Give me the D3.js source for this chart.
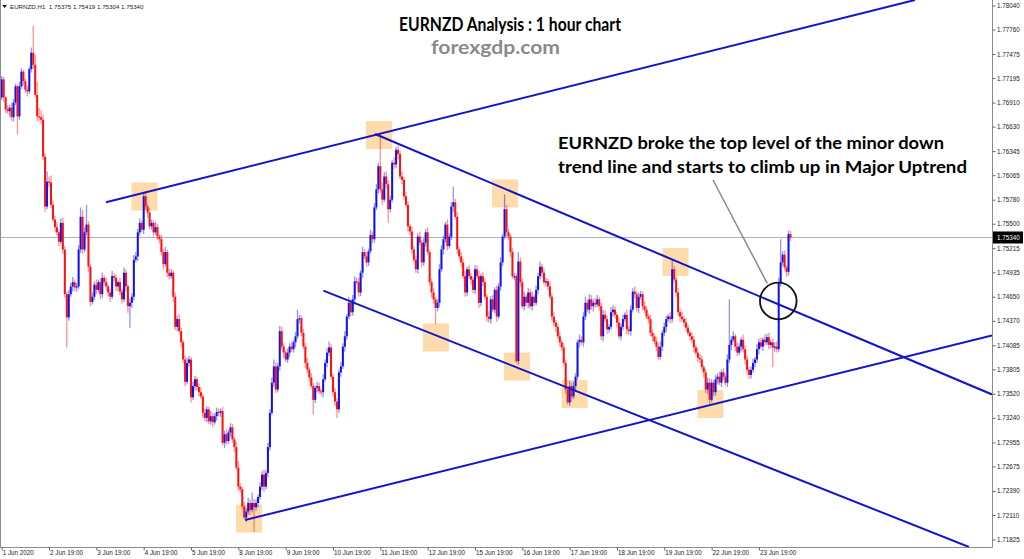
<!DOCTYPE html>
<html><head><meta charset="utf-8">
<script src="https://cdn.jsdelivr.net/npm/d3@7"></script>
<style>html,body{margin:0;padding:0;background:#fff;overflow:hidden}</style>
</head><body>
<svg id="c" width="1024" height="559"></svg>
<script>
// ---- DATA (hourly EURNZD, prices in pips = price x 10000) ----
const firstOpenPips = 17697;
const closePips = [
17718,17697,17683,17681,17685,17674,17691,17710,17675,17710,
17727,17716,17706,17704,17730,17749,17735,17700,17675,17674,
17671,17628,17570,17599,17598,17572,17555,17546,17540,17529,
17551,17520,17468,17441,17468,17477,17482,17476,17477,17520,
17558,17520,17540,17549,17500,17459,17465,17479,17473,17482,
17468,17487,17482,17477,17470,17465,17489,17487,17477,17482,
17471,17462,17493,17477,17454,17458,17465,17508,17512,17540,
17551,17543,17582,17570,17563,17547,17551,17540,17546,17535,
17532,17517,17503,17517,17493,17489,17493,17465,17430,17439,
17425,17412,17392,17366,17388,17392,17348,17361,17369,17360,
17354,17349,17330,17324,17334,17320,17326,17319,17326,17331,
17330,17332,17295,17305,17297,17307,17313,17299,17290,17266,
17244,17241,17221,17208,17215,17225,17217,17225,17220,17225,
17232,17244,17258,17244,17260,17290,17330,17365,17384,17357,
17384,17425,17407,17400,17392,17400,17407,17404,17412,17419,
17439,17440,17423,17407,17388,17380,17371,17361,17345,17359,
17361,17355,17354,17369,17388,17400,17406,17372,17354,17343,
17334,17377,17384,17407,17419,17442,17458,17447,17462,17483,
17482,17470,17493,17517,17512,17505,17518,17537,17532,17569,
17590,17617,17590,17578,17605,17596,17567,17578,17621,17619,
17636,17631,17605,17601,17582,17572,17547,17541,17520,17508,
17497,17535,17528,17505,17528,17540,17517,17482,17470,17462,
17452,17458,17497,17520,17532,17549,17524,17535,17570,17575,
17558,17520,17512,17505,17489,17470,17497,17489,17485,17473,
17497,17489,17458,17489,17482,17465,17442,17439,17462,17450,
17473,17442,17477,17505,17535,17567,17540,17535,17517,17489,
17489,17390,17506,17482,17454,17465,17458,17470,17454,17465,
17458,17473,17489,17500,17493,17482,17483,17477,17465,17442,
17435,17430,17419,17412,17406,17388,17357,17342,17361,17349,
17361,17372,17412,17415,17412,17442,17458,17450,17462,17454,
17458,17456,17462,17454,17419,17444,17439,17427,17430,17447,
17450,17444,17435,17419,17430,17439,17444,17427,17425,17450,
17471,17468,17452,17465,17468,17454,17450,17442,17439,17423,
17419,17413,17407,17395,17407,17423,17430,17439,17442,17439,
17497,17485,17470,17447,17442,17439,17435,17429,17423,17419,
17415,17406,17400,17394,17392,17383,17377,17357,17365,17345,
17365,17354,17369,17372,17365,17377,17372,17365,17392,17409,
17415,17419,17407,17400,17407,17415,17404,17392,17380,17374,
17380,17388,17392,17404,17412,17407,17415,17412,17418,17409,
17412,17406,17407,17404,17482,17505,17514,17499,17494,17538,
17534];
// upper / lower wick length in pips beyond the candle body
const wickUp = [
4,3,2,5,3,6,4,3,2,5, 4,2,3,5,3,6,31,12,15,10, 8,6,4,12,6,8,5,4,6,3, 5,6,4,3,5,4,6,3,4,5,
11,8,6,23,4,3,5,4,6,3, 4,6,3,5,2,4,6,3,4,2, 5,3,6,4,3,5,4,6,5,4, 5,3,4,6,3,5,4,3,6,4,
3,5,4,6,3,5,4,3,5,4, 6,4,3,5,6,4,3,5,4,3, 4,6,3,5,4,3,6,4,3,5, 4,3,5,4,6,3,5,4,3,6,
8,4,3,5,4,6,4,12,5,4, 3,5,4,6,3,5,4,6,8,5, 4,6,5,4,3,5,4,6,3,5, 11,4,3,5,4,6,3,5,4,3,
5,4,3,6,4,5,7,4,3,5, 4,3,5,4,6,3,7,4,5,6, 4,5,3,6,4,5,3,6,4,5, 6,4,37,8,5,6,4,5,3,6,
3,5,4,6,3,5,4,3,6,4, 5,4,6,3,5,4,6,3,4,5, 3,4,6,5,4,3,6,4,5,18, 4,6,3,5,4,6,3,5,4,3,
5,4,6,3,5,4,3,6,4,5, 3,5,4,6,3,17,5,4,3,5, 4,3,11,5,4,6,3,5,4,6, 3,5,4,6,3,5,4,3,6,4,
5,3,4,6,3,5,4,3,6,4, 5,4,3,6,4,5,7,4,6,5, 4,6,5,3,4,6,5,4,3,6, 5,4,3,6,4,5,3,6,4,5,
4,6,3,5,4,3,6,4,3,5, 4,3,5,4,6,3,5,4,3,5, 11,4,3,5,4,6,3,5,4,3, 5,4,3,6,4,5,3,4,6,5,
4,3,5,4,6,3,5,4,6,53, 4,6,3,5,4,3,6,4,5,3, 4,5,3,6,4,5,3,6,4,5, 3,4,5,6,5,27,4,5,3,4,
4];
const wickDn = [
3,5,4,3,6,4,5,3,21,4, 3,5,4,6,3,4,5,3,6,4, 5,4,6,3,5,4,3,6,4,5, 3,5,4,35,4,3,6,4,5,3,
4,5,3,4,6,5,3,4,5,3, 6,4,3,5,4,6,3,4,5,6, 4,5,3,6,8,25,6,4,3,5, 4,3,5,4,6,3,4,5,3,4,
5,4,6,3,5,4,3,6,4,5, 3,6,4,5,3,4,6,3,5,4, 5,3,6,4,5,3,4,6,3,5, 4,5,3,6,4,3,5,4,6,3,
5,4,3,2,5,4,6,3,29,4, 5,3,4,6,3,5,4,3,5,4, 3,5,4,6,3,4,5,3,4,6, 3,5,4,3,6,4,5,3,17,4,
5,3,4,6,3,5,4,3,6,5, 10,4,5,3,6,4,3,5,4,6, 3,5,4,6,3,5,4,3,5,4, 3,5,4,6,3,5,16,4,3,5,
4,6,3,5,4,3,6,4,5,3, 4,5,3,6,4,5,3,4,6,5, 19,4,5,3,6,4,5,3,4,6, 3,5,4,6,3,5,4,3,6,4,
5,3,6,4,5,3,6,4,5,3, 4,6,3,5,4,3,5,4,6,3, 5,2,4,6,3,5,4,6,3,5, 4,3,5,4,6,3,5,4,3,5,
4,6,3,5,4,3,5,2,4,6, 3,5,4,6,3,5,4,3,5,4, 6,4,3,5,4,6,3,5,4,3, 5,4,6,3,5,4,3,6,4,5,
3,5,4,6,3,5,4,3,5,4, 6,3,5,4,3,5,4,6,3,5, 4,3,5,4,6,3,5,4,3,5, 4,6,3,5,4,3,6,4,5,5,
3,5,4,6,3,5,4,3,5,4, 6,3,5,4,3,5,4,6,3,5, 4,3,5,4,6,3,5,4,3,5, 4,23,5,4,3,5,4,3,6,4,
4];
const yTickLabels = ["1.78040","1.77760","1.77475","1.77195","1.76910","1.76630","1.76345","1.76065",
  "1.75780","1.75500","1.75215","1.74935","1.74650","1.74370","1.74085","1.73805","1.73520",
  "1.73240","1.72955","1.72675","1.72390","1.72110","1.71825"];
const xTickLabels = ["1 Jun 2020","2 Jun 19:00","3 Jun 19:00","4 Jun 19:00","5 Jun 19:00","8 Jun 19:00",
  "9 Jun 19:00","10 Jun 19:00","11 Jun 19:00","12 Jun 19:00","15 Jun 19:00","16 Jun 19:00",
  "17 Jun 19:00","18 Jun 19:00","19 Jun 19:00","22 Jun 19:00","23 Jun 19:00"];
const barsPerLabel = 24;
const currentPrice = "1.75340";
const headerText = "EURNZD,H1  1.75375 1.75419 1.75304 1.75340";
// trend lines: [barIndex, price] endpoints
const trendLines = [
  [[52.9, 1.75750], [463.1, 1.78104]],   // major uptrend top
  [[123.4, 1.72052], [502.2, 1.74199]],  // major uptrend bottom
  [[189.3, 1.76544], [502.2, 1.73513]],  // minor down top
  [[163.1, 1.74721], [490.5, 1.71738]]   // minor down bottom
];
// highlighted touch points [barIndex, price]
const zones = [[72.4,1.75817],[191.3,1.76533],[255.2,1.75852],[341.7,1.75055],[220.2,1.74176],
  [261.3,1.73838],[290.5,1.73518],[359.4,1.73402],[125.4,1.72069]];
const breakout = [393.8, 1.74601];
const pointer = [[360.7, 1.76009], [388.2, 1.74807]];
const title = "EURNZD Analysis : 1 hour chart";
const site = "forexgdp.com";
const note = ["EURNZD broke the top level of the minor down", "trend line and starts to climb up in Major Uptrend"];

// ---- DRAW ----
const svg = d3.select("#c");
const plotR = 992, plotB = 547;
const x = d3.scaleLinear().domain([0, 400]).range([1.7, 790.5]);
const y = d3.scaleLinear().domain([1.71825, 1.78040]).range([539.5, 5.5]);

svg.append("defs").append("clipPath").attr("id","clip")
  .append("rect").attr("x",1).attr("y",0).attr("width",plotR-1).attr("height",plotB);

const bars = closePips.map((c,i)=>{
  const o = i===0 ? firstOpenPips : closePips[i-1];
  return {i, o:o/1e4, c:c/1e4, h:(Math.max(o,c)+wickUp[i])/1e4, l:(Math.min(o,c)-wickDn[i])/1e4};
});

const plot = svg.append("g").attr("clip-path","url(#clip)");
// zones
plot.append("g").selectAll("rect").data(zones).join("rect")
  .attr("x", d=>x(d[0])-13).attr("y", d=>y(d[1])-14).attr("width",26).attr("height",28)
  .attr("fill","#fedbab");
// current price line
plot.append("line").attr("x1",0).attr("x2",plotR).attr("y1",y(+currentPrice)).attr("y2",y(+currentPrice))
  .attr("stroke","#aab1c0").attr("stroke-width",1);
// candles
const col = d => d.c >= d.o ? "#1010f0" : "#ff1010";
const cg = plot.append("g");
cg.selectAll("line").data(bars).join("line")
  .attr("x1",d=>x(d.i)).attr("x2",d=>x(d.i)).attr("y1",d=>y(d.h)).attr("y2",d=>y(d.l))
  .attr("stroke",col).attr("stroke-opacity",0.45).attr("stroke-width",1.3);
cg.selectAll("rect").data(bars).join("rect")
  .attr("x",d=>x(d.i)-1).attr("width",2)
  .attr("y",d=>y(Math.max(d.o,d.c)))
  .attr("height",d=>Math.max(1.2, y(Math.min(d.o,d.c))-y(Math.max(d.o,d.c))))
  .attr("fill",col);
// trend lines
plot.append("g").selectAll("line").data(trendLines).join("line")
  .attr("x1",d=>x(d[0][0])).attr("y1",d=>y(d[0][1])).attr("x2",d=>x(d[1][0])).attr("y2",d=>y(d[1][1]))
  .attr("stroke","#1414c8").attr("stroke-width",2);
// pointer & circle
plot.append("line").attr("x1",x(pointer[0][0])).attr("y1",y(pointer[0][1]))
  .attr("x2",x(pointer[1][0])).attr("y2",y(pointer[1][1])).attr("stroke","#8a8a8a").attr("stroke-width",1.5);
plot.append("circle").attr("cx",x(breakout[0])).attr("cy",y(breakout[1])).attr("r",18.3)
  .attr("fill","none").attr("stroke","#111").attr("stroke-width",1.8);

// frame
const frame = svg.append("g").attr("stroke","#8c8c8c").attr("stroke-width",1).attr("fill","none");
frame.append("line").attr("x1",0.5).attr("x2",0.5).attr("y1",0).attr("y2",plotB+0.5);
frame.append("line").attr("x1",0).attr("x2",plotR+0.5).attr("y1",plotB+0.5).attr("y2",plotB+0.5);
frame.append("line").attr("x1",plotR+0.5).attr("x2",plotR+0.5).attr("y1",0).attr("y2",plotB+0.5);

// y axis (right)
const axFont = "'Liberation Sans', Arial, sans-serif";
const yAxis = d3.axisRight(y).tickValues(yTickLabels.map(Number)).tickSize(3)
  .tickFormat((d,i)=>yTickLabels[i]);
const ya = svg.append("g").attr("transform",`translate(${plotR+0.5},0)`).call(yAxis);
ya.select(".domain").remove();
ya.selectAll("line").attr("stroke","#666");
ya.selectAll("text").attr("x",4.5).attr("font-family",axFont).attr("font-size",6.3).attr("fill","#222");
// current price tag
const cp = svg.append("g");
cp.append("rect").attr("x",plotR+1).attr("y",y(+currentPrice)-6).attr("width",30).attr("height",12).attr("fill","#000");
cp.append("text").attr("x",plotR+5).attr("y",y(+currentPrice)).attr("dy","0.35em")
  .attr("font-family",axFont).attr("font-size",6.3).attr("fill","#fff").text(currentPrice);

// x axis (bottom)
const xAxis = d3.axisBottom(x).tickValues(xTickLabels.map((d,i)=>i*barsPerLabel)).tickSize(3)
  .tickFormat((d,i)=>xTickLabels[i]);
const xa = svg.append("g").attr("transform",`translate(0,${plotB+0.5})`).call(xAxis);
xa.select(".domain").remove();
xa.selectAll("line").attr("stroke","#666");
xa.selectAll("text").attr("text-anchor","start").attr("x",0.5).attr("y",3.5).attr("dy","0.71em")
  .attr("font-family",axFont).attr("font-size",6.3).attr("fill","#222");

// header
svg.append("path").attr("d","M2,5 L7,5 L4.5,8 Z").attr("fill","#111");
svg.append("text").attr("x",10).attr("y",9).attr("font-family",axFont).attr("font-size",6.2)
  .attr("fill","#222").attr("xml:space","preserve").style("white-space","pre").text(headerText);

// titles
const bold = "Lato, 'Open Sans', sans-serif";
function fit(t, w){ t.attr("textLength", w).attr("lengthAdjust","spacingAndGlyphs"); }
const t1 = svg.append("text").attr("x",399).attr("y",31).attr("font-family",bold).attr("font-weight",700)
  .attr("font-size",18).attr("fill","#000").text(title); fit(t1,222);
const t2 = svg.append("text").attr("x",431).attr("y",53.5).attr("font-family",bold).attr("font-weight",700)
  .attr("font-size",18.5).attr("fill","#8a8a8a").text(site); fit(t2,129);
const n1 = svg.append("text").attr("x",558).attr("y",149).attr("font-family",bold).attr("font-weight",700)
  .attr("font-size",17.5).attr("fill","#000").text(note[0]); fit(n1,386);
const n2 = svg.append("text").attr("x",558).attr("y",173).attr("font-family",bold).attr("font-weight",700)
  .attr("font-size",17.5).attr("fill","#000").text(note[1]); fit(n2,409);
</script>
</body></html>
